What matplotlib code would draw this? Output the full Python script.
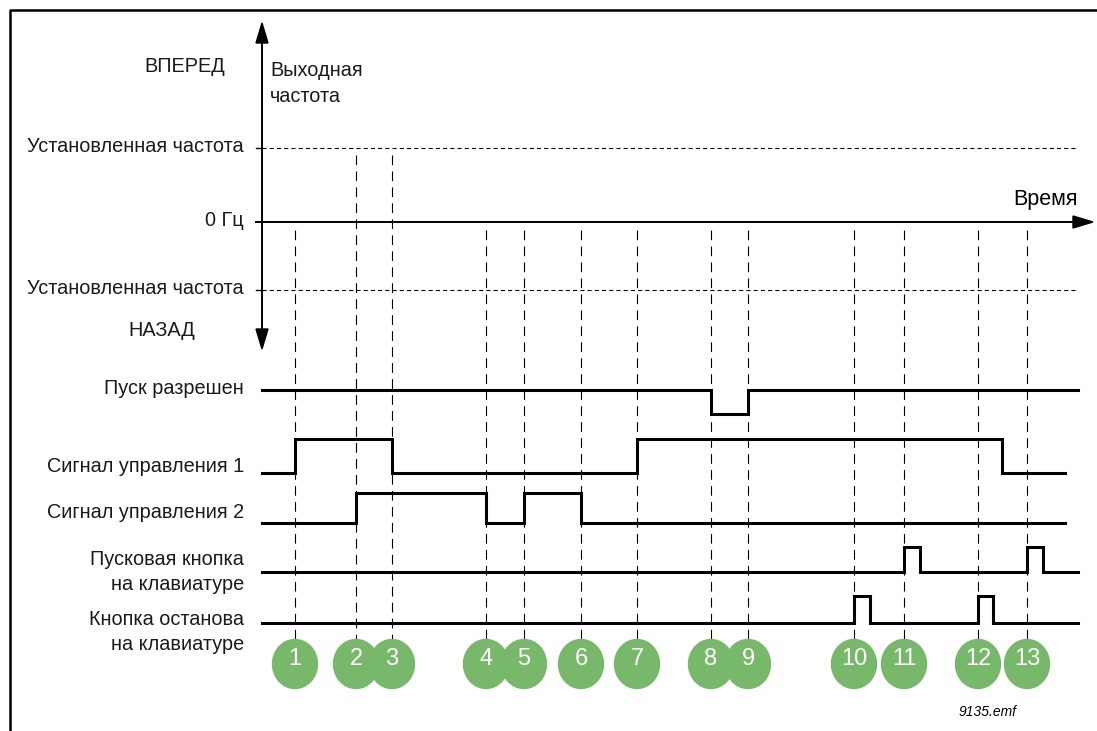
import matplotlib
matplotlib.use("Agg")
import matplotlib.pyplot as plt
from matplotlib.patches import Ellipse, Polygon

plt.rcParams['font.family'] = ['Liberation Sans', 'DejaVu Sans']
plt.rcParams['lines.scale_dashes'] = False

# ---- data (time axis in figure-pixel units) ----
event_labels = ['1', '2', '3', '4', '5', '6', '7', '8', '9', '10', '11', '12', '13']
event_times = [295, 356, 392, 486, 524, 581, 637, 711, 748, 854, 904, 978, 1027]
event_line_top = [230, 155, 155, 230, 230, 230, 230, 230, 230, 230, 230, 230, 230]

signal_names = ['Пуск разрешен', 'Сигнал управления 1', 'Сигнал управления 2',
                'Пусковая кнопка\nна клавиатуре', 'Кнопка останова\nна клавиатуре']
signal_label_y = [388, 466, 512, 572, 632]
# each signal: start level, transition times, end time (levels alternate 0/1)
run_enable_times = [711, 748]
ctrl1_times = [295, 392, 637, 1002]
ctrl2_times = [356, 486, 524, 581]
start_btn_times = [904, 920, 1027, 1043]
stop_btn_times = [854, 870, 978, 993]
signal_times = [run_enable_times, ctrl1_times, ctrl2_times, start_btn_times, stop_btn_times]
signal_start_level = [1, 0, 0, 0, 0]
signal_end = [1078, 1065, 1065, 1078, 1078]
signal_low_y = [414, 473, 523, 572, 623]
signal_high_y = [390, 439, 493, 547, 596]

freq_levels = ['Установленная частота', '0 Гц', 'Установленная частота']
freq_level_y = [148, 222, 290]

fig = plt.figure(figsize=(10.97, 7.31), dpi=100)
ax = fig.add_axes([0, 0, 1, 1])
ax.set_xlim(0, 1097)
ax.set_ylim(731, 0)
ax.axis('off')

TXT = '#1a1a1a'
FS = 14.3
AXIS_X = 262
SIG_START = 262

# frame
ax.plot([10, 10, 1100], [740, 10, 10], color='black', lw=1.8, solid_capstyle='butt')

# vertical frequency axis with arrows
ax.plot([AXIS_X, AXIS_X], [40, 332], color='black', lw=1.4)
ax.add_patch(Polygon([[AXIS_X, 23], [AXIS_X - 6, 43], [AXIS_X + 6, 43]], closed=True,
                     color='black'))
ax.add_patch(Polygon([[AXIS_X, 349], [AXIS_X - 6, 329], [AXIS_X + 6, 329]], closed=True,
                     color='black'))

# frequency levels
for i, (lab, y) in enumerate(zip(freq_levels, freq_level_y)):
    if i == 1:
        ax.plot([256, 1075], [y, y], color='black', lw=1.4)
        ax.add_patch(Polygon([[1093, y], [1073, y - 6], [1073, y + 6]], closed=True,
                             color='black'))
    else:
        ax.plot([256, 262], [y, y], color='black', lw=1.0)
        ax.plot([262, 1078], [y, y], color='black', lw=0.8, dashes=(3.0, 2.2))
    ax.text(244, y - 2, lab, ha='right', va='center', fontsize=FS, color=TXT)

ax.text(225, 67, 'ВПЕРЕД', ha='right', va='center', fontsize=FS, color=TXT)
ax.text(162, 330, 'НАЗАД', ha='center', va='center', fontsize=FS, color=TXT)
ax.text(270, 70, 'Выходная', ha='left', va='center', fontsize=FS, color=TXT)
ax.text(270, 96, 'частота', ha='left', va='center', fontsize=FS, color=TXT)
ax.text(1078, 200, 'Время', ha='right', va='center', fontsize=15.5, color='black')

# event dashed lines
for t, top in zip(event_times, event_line_top):
    ax.plot([t, t], [top, 640], color='black', lw=0.8, dashes=(7.0, 4.5))

# signals
for name, ly, times, lvl0, end, lo, hi in zip(signal_names, signal_label_y, signal_times,
                                               signal_start_level, signal_end,
                                               signal_low_y, signal_high_y):
    xs = [SIG_START] + list(times) + [end]
    lv = [lvl0]
    for _ in times:
        lv.append(1 - lv[-1])
    lv.append(lv[-1])
    ys = [hi if v else lo for v in lv]
    ax.plot(xs, ys, drawstyle='steps-post', color='black', lw=2.2,
            solid_joinstyle='miter')
    ax.text(244, ly, name, ha='right', va='center', fontsize=FS, color=TXT,
            linespacing=1.4)

# event markers
for t, lab in zip(event_times, event_labels):
    ax.add_patch(Ellipse((t, 664), 45, 49, color='#78b86a', zorder=5))
    ax.text(t, 659, lab, ha='center', va='center', fontsize=17, color='white', zorder=6)

ax.text(988, 712, '9135.emf', ha='center', va='center', fontsize=10, style='italic',
        color='black')

fig.savefig('out.png', dpi=100)
